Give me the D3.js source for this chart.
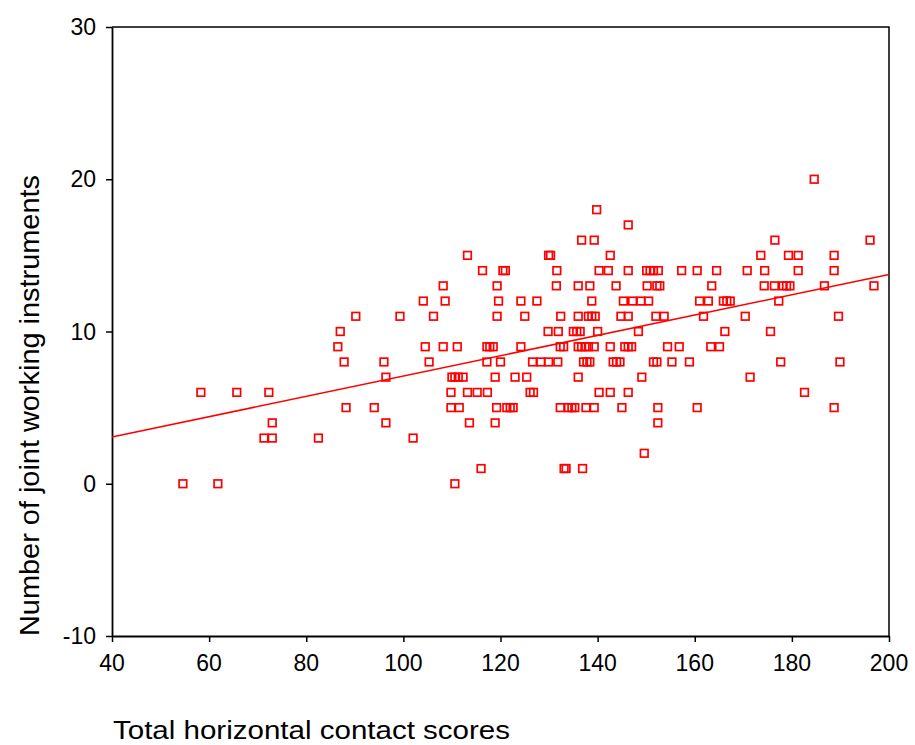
<!DOCTYPE html>
<html>
<head>
<meta charset="utf-8">
<script src="https://cdn.jsdelivr.net/npm/d3@7"></script>
<style>
  html, body { margin: 0; padding: 0; background: #fff; }
  svg { display: block; font-family: "Liberation Sans", Arial, sans-serif; }
</style>
</head>
<body>
<svg id="chart"></svg>
<script>
// Data, paired by index (x = contact score, y = instruments)
const contactScores = [
    184.6,
    139.8,
    146.3,
    136.7, 139.3, 176.5, 196.1,
    113.2, 129.9, 130.3, 142.6, 173.6, 179.3, 181.3, 188.7,
    116.3, 120.5, 121.0, 131.6, 140.3, 142.2, 146.3, 150.1, 150.8, 151.5, 152.5, 157.3, 160.5, 164.5, 170.8, 174.4, 181.3, 188.7,
    108.2, 119.3, 131.5, 136.0, 138.4, 143.8, 150.2, 152.2, 152.8, 163.5, 174.3, 176.4, 178.2, 178.9, 179.6, 186.7, 196.9,
    104.1, 108.6, 119.6, 124.2, 127.5, 138.8, 145.3, 147.2, 148.9, 150.5, 161.0, 162.8, 165.9, 166.6, 167.3, 177.3,
    90.2, 99.3, 106.2, 119.3, 125.0, 132.4, 136.0, 138.1, 138.8, 139.5, 144.8, 146.3, 152.0, 153.7, 161.8, 170.4, 189.6,
    87.0, 129.8, 131.9, 135.0, 135.7, 136.4, 140.0, 148.4, 166.2, 175.6,
    86.5, 104.5, 108.2, 111.1, 117.2, 117.8, 118.5, 124.2, 132.3, 133.0, 136.0, 136.7, 137.4, 138.1, 139.3, 142.6, 145.6, 146.3, 147.0, 154.4, 156.8, 163.3, 165.1,
    87.8, 96.0, 105.3, 117.2, 120.0, 126.6, 128.3, 129.9, 131.8, 137.1, 137.8, 138.4, 143.2, 143.9, 144.6, 151.5, 152.2, 155.3, 158.9, 177.7, 189.9,
    96.4, 110.0, 110.6, 111.3, 112.3, 118.9, 123.0, 125.4, 136.0, 149.1, 171.4,
    58.3, 65.7, 72.3, 109.8, 113.2, 115.2, 117.3, 126.1, 126.8, 140.3, 142.6, 146.3, 182.6,
    88.2, 94.0, 109.8, 111.5, 119.2, 121.3, 122.0, 122.6, 132.3, 134.0, 134.7, 135.3, 137.6, 139.3, 145.0, 152.4, 160.5, 188.7,
    73.0, 96.4, 113.6, 118.9, 152.4,
    71.3, 73.0, 82.5, 102.0,
    149.6,
    116.0, 133.1, 133.5, 136.9,
    54.6, 61.8, 110.6
];
const instrumentCounts = [
    20,
    18,
    17,
    16, 16, 16, 16,
    15, 15, 15, 15, 15, 15, 15, 15,
    14, 14, 14, 14, 14, 14, 14, 14, 14, 14, 14, 14, 14, 14, 14, 14, 14, 14,
    13, 13, 13, 13, 13, 13, 13, 13, 13, 13, 13, 13, 13, 13, 13, 13, 13,
    12, 12, 12, 12, 12, 12, 12, 12, 12, 12, 12, 12, 12, 12, 12, 12,
    11, 11, 11, 11, 11, 11, 11, 11, 11, 11, 11, 11, 11, 11, 11, 11, 11,
    10, 10, 10, 10, 10, 10, 10, 10, 10, 10,
    9, 9, 9, 9, 9, 9, 9, 9, 9, 9, 9, 9, 9, 9, 9, 9, 9, 9, 9, 9, 9, 9, 9,
    8, 8, 8, 8, 8, 8, 8, 8, 8, 8, 8, 8, 8, 8, 8, 8, 8, 8, 8, 8, 8,
    7, 7, 7, 7, 7, 7, 7, 7, 7, 7, 7,
    6, 6, 6, 6, 6, 6, 6, 6, 6, 6, 6, 6, 6,
    5, 5, 5, 5, 5, 5, 5, 5, 5, 5, 5, 5, 5, 5, 5, 5, 5, 5,
    4, 4, 4, 4, 4,
    3, 3, 3, 3,
    2,
    1, 1, 1, 1,
    0, 0, 0
];
// Fitted line end points (x, y)
const fitX = [40, 200];
const fitY = [3.07, 13.75];

const xTicks = [40, 60, 80, 100, 120, 140, 160, 180, 200];
const yTicks = [-10, 0, 10, 20, 30];

const totalWidth = 915, totalHeight = 745;
const margin = { top: 27, right: 26, bottom: 109, left: 112 };
const width = totalWidth - margin.left - margin.right;
const height = totalHeight - margin.top - margin.bottom;

const svgRoot = d3.select('#chart').attr('width', totalWidth).attr('height', totalHeight);
const svg = svgRoot.append('g').attr('transform', `translate(${margin.left},${margin.top})`);

const xScale = d3.scaleLinear().domain([40, 200]).range([0, width]);
const yScale = d3.scaleLinear().domain([-10, 30]).range([height, 0]);

// Frame (top + right)
svg.append('path')
    .attr('d', `M0,0H${width}V${height}`)
    .attr('fill', 'none').attr('stroke', '#000').attr('stroke-width', 1.5);

// Axes (ticks only, labels drawn separately)
const xAxis = svg.append('g').attr('transform', `translate(0,${height})`)
    .call(d3.axisBottom(xScale).tickValues(xTicks).tickSize(6).tickSizeOuter(0).tickFormat(''));
const yAxis = svg.append('g')
    .call(d3.axisLeft(yScale).tickValues(yTicks).tickSize(6).tickSizeOuter(0).tickFormat(''));
[xAxis, yAxis].forEach(a => {
    a.select('.domain').attr('stroke', '#000').attr('stroke-width', 1.8);
    a.selectAll('line').attr('stroke', '#000').attr('stroke-width', 1.5);
});

// Tick labels
svg.selectAll('.xlab').data(xTicks).enter().append('text')
    .attr('x', d => xScale(d)).attr('y', height + 35)
    .attr('text-anchor', 'middle')
    .attr('font-size', '23px').attr('fill', '#000')
    .text(d => d);
svg.selectAll('.ylab').data(yTicks).enter().append('text')
    .attr('x', -16).attr('y', d => yScale(d) + 8)
    .attr('text-anchor', 'end')
    .attr('font-size', '23px').attr('fill', '#000')
    .text(d => d);

// Regression line
svg.append('line')
    .attr('x1', xScale(fitX[0])).attr('y1', yScale(fitY[0]))
    .attr('x2', xScale(fitX[1])).attr('y2', yScale(fitY[1]))
    .attr('stroke', '#ff0000').attr('stroke-width', 1.5);

// Points
const s = 7.6;
svg.selectAll('.pt').data(contactScores).enter().append('rect')
    .attr('x', d => xScale(d) - s / 2)
    .attr('y', (d, i) => yScale(instrumentCounts[i]) - s / 2)
    .attr('width', s).attr('height', s)
    .attr('fill', 'none').attr('stroke', '#ff0000').attr('stroke-width', 1.7);

// Axis titles
svgRoot.append('text')
    .attr('x', 113).attr('y', 739)
    .attr('font-size', '25px').attr('fill', '#000')
    .attr('textLength', 397).attr('lengthAdjust', 'spacingAndGlyphs')
    .text('Total horizontal contact scores');
svgRoot.append('text')
    .attr('transform', 'translate(39,636) rotate(-90)')
    .attr('font-size', '28px').attr('fill', '#000')
    .attr('textLength', 461).attr('lengthAdjust', 'spacingAndGlyphs')
    .text('Number of joint working instruments');
</script>
</body>
</html>
